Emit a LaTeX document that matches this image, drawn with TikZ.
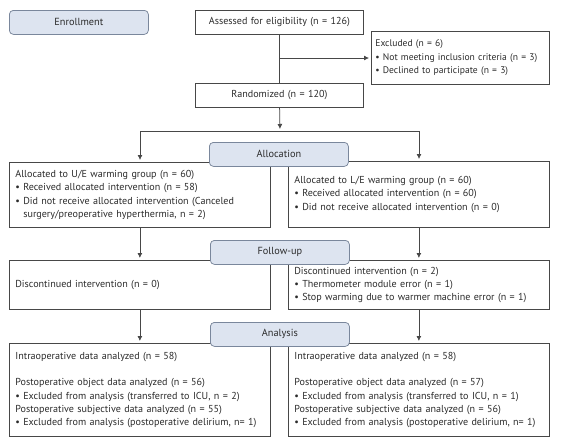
\documentclass[tikz,border=0pt]{standalone}
\usepackage{fontspec}
\setmainfont{PT Sans}
\usetikzlibrary{arrows.meta}
\definecolor{stagefill}{HTML}{DDE4F0}
\definecolor{stageline}{HTML}{7A879C}
\definecolor{boxline}{HTML}{474747}
\definecolor{inktext}{HTML}{2B2B2B}

\begin{document}
\begin{tikzpicture}[x=1pt,y=-1pt,
  box/.style={draw=boxline, line width=0.75pt, anchor=north west, align=left,
    inner xsep=6pt, inner ysep=0pt, text=inktext,
    font=\fontsize{10.1}{13.3}\selectfont},
  stage/.style={draw=stageline, fill=stagefill, rounded corners=4pt,
    line width=0.75pt, anchor=north west, minimum width=139pt,
    minimum height=24pt, inner sep=0pt, text=inktext,
    font=\fontsize{10.3}{12}\selectfont},
  link/.style={boxline, line width=0.75pt},
  arr/.style={link, -{Latex[length=5pt,width=5pt]}, shorten >=2pt}]

  \useasboundingbox (0,0) rectangle (576,445);

  % enrollment
  \node[stage] (enroll) at (9,10) {Enrollment};
  \node[box, text width=156pt, minimum height=24pt, align=center]
    (assess) at (195,10) {Assessed for eligibility (n = 126)};
  \node[box, text width=170pt, minimum height=53pt, inner xsep=4pt,
    font=\fontsize{9.6}{13.3}\selectfont]
    (excl) at (371,31) {Excluded (n = 6)\\
      \textbullet\ Not meeting inclusion criteria (n = 3)\\
      \textbullet\ Declined to participate (n = 3)};
  \node[box, text width=156pt, minimum height=24pt, align=center]
    (rand) at (195,83) {Randomized (n = 120)};

  \coordinate (excl in) at (280,58);
  \coordinate (split) at (280,131);
  \coordinate (split L) at (140,131);
  \coordinate (split R) at (419,131);

  \draw[link] (assess) -- (rand);
  \draw[arr] (excl in) -- (excl in -| excl.west);
  \draw[arr] (rand) -- (split);
  \draw[link] (split L) -- (split R);

  % allocation
  \node[box, text width=249pt, minimum height=65pt] (alloc L) at (9,162)
    {Allocated to U/E warming group (n = 60)\\
     \textbullet\ Received allocated intervention (n = 58)\\
     \textbullet\ Did not receive allocated intervention (Canceled\\
     \hphantom{\textbullet\ }surgery/preoperative hyperthermia, n = 2)};
  \node[box, text width=249pt, minimum height=66pt] (alloc R) at (288,161)
    {Allocated to L/E warming group (n = 60)\\
     \textbullet\ Received allocated intervention (n = 60)\\
     \textbullet\ Did not receive allocated intervention (n = 0)};

  \draw[arr] (split L) -- (split L |- alloc L.north);
  \draw[arr] (split R) -- (split R |- alloc R.north);

  % follow-up
  \node[box, text width=249pt, minimum height=49pt] (follow L) at (9,260)
    {Discontinued intervention (n = 0)};
  \node[box, text width=249pt, minimum height=49pt] (follow R) at (288,260)
    {Discontinued intervention (n = 2)\\
     \textbullet\ Thermometer module error (n = 1)\\
     \textbullet\ Stop warming due to warmer machine error (n = 1)};

  \draw[arr] (alloc L) -- (follow L);
  \draw[arr] (alloc R) -- (follow R);

  % analysis
  \node[box, text width=249pt, minimum height=93pt] (ana L) at (9,343)
    {Intraoperative data analyzed (n = 58)\\ ~\\
     Postoperative object data analyzed (n = 56)\\
     \textbullet\ Excluded from analysis (transferred to ICU, n = 2)\\
     Postoperative subjective data analyzed (n = 55)\\
     \textbullet\ Excluded from analysis (postoperative delirium, n= 1)};
  \node[box, text width=249pt, minimum height=93pt] (ana R) at (288,343)
    {Intraoperative data analyzed (n = 58)\\ ~\\
     Postoperative object data analyzed (n = 57)\\
     \textbullet\ Excluded from analysis (transferred to ICU, n = 1)\\
     Postoperative subjective data analyzed (n = 56)\\
     \textbullet\ Excluded from analysis (postoperative delirium, n= 1)};

  \draw[arr] (follow L) -- (ana L);
  \draw[arr] (follow R) -- (ana R);

  % stage labels on top
  \node[stage] (alloc) at (209,142) {Allocation};
  \node[stage] (follow) at (210,240) {Follow-up};
  \node[stage] (ana) at (210,322) {Analysis};

\end{tikzpicture}
\end{document}
